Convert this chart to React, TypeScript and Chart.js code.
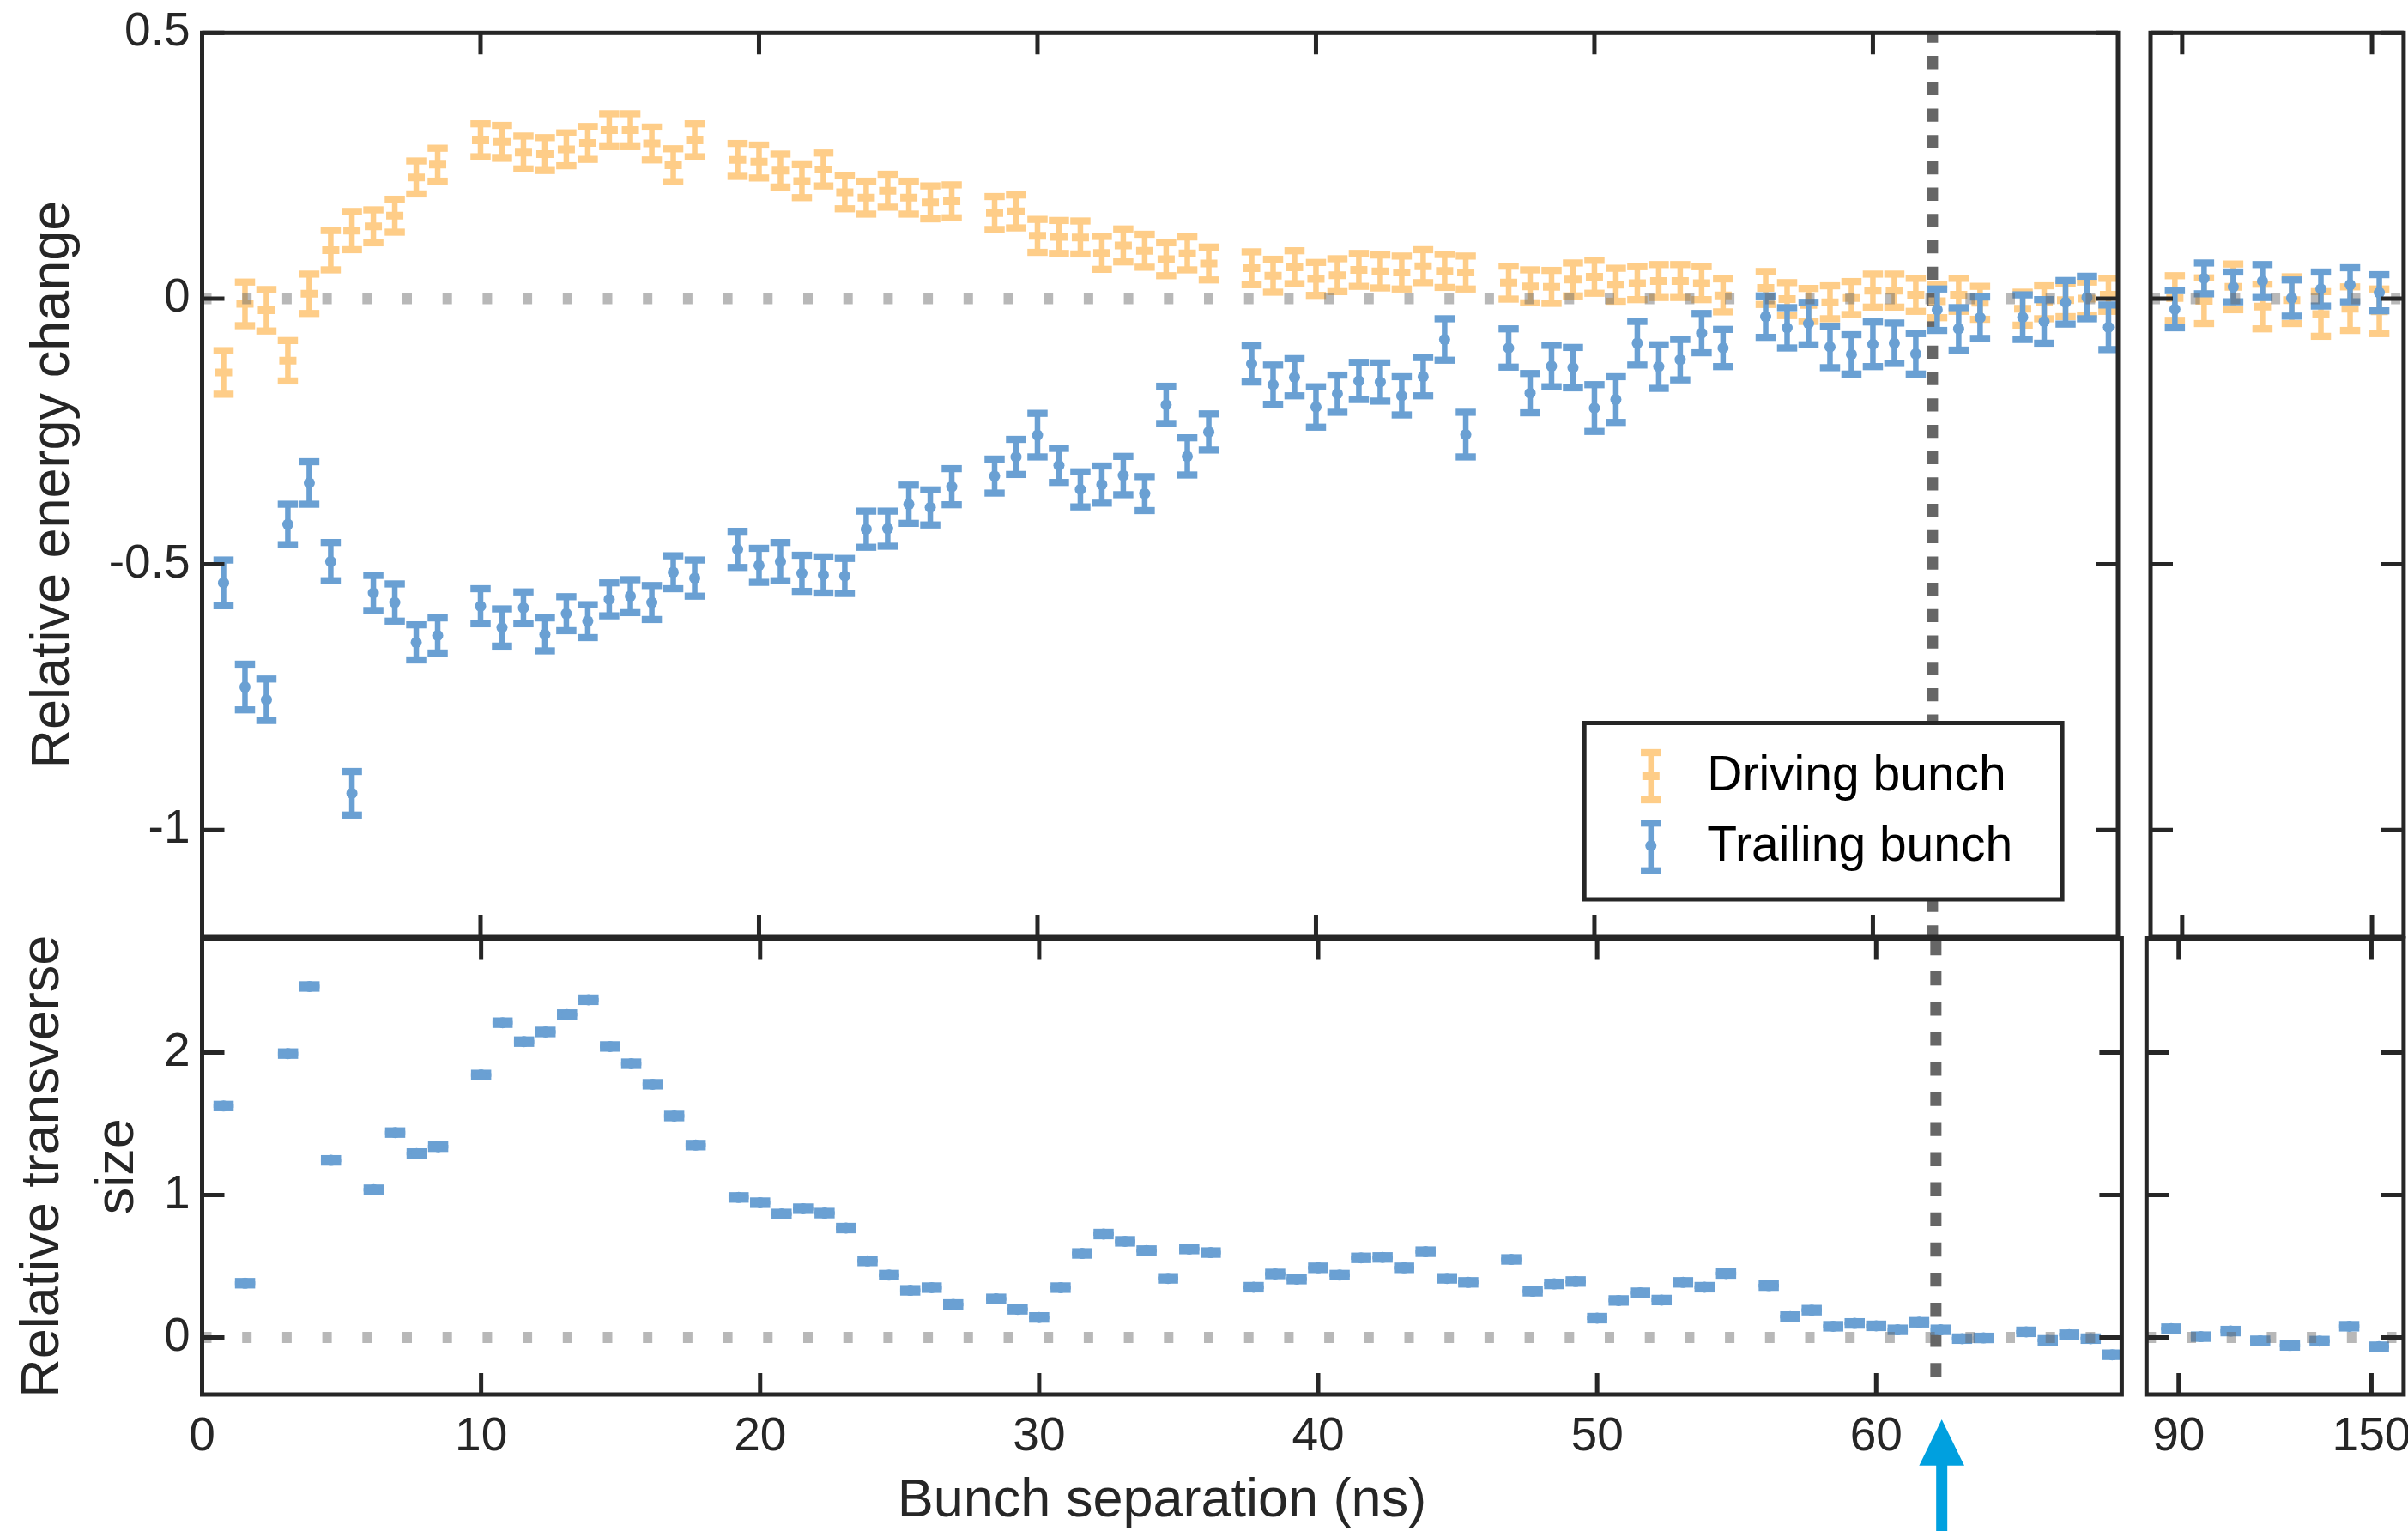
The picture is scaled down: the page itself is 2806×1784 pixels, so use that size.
import React, { useEffect, useRef } from "react";
import { Chart, registerables } from "chart.js";

Chart.register(...registerables);

const FONT = '"Liberation Sans", Arial, Helvetica, sans-serif';
Chart.defaults.font.family = FONT;

// ---------------- data ----------------
// bunch separations (ns) of the energy measurements, 0-70 ns section
const ENERGY_X = [
  0.77, 1.54, 2.31, 3.08, 3.85, 4.62, 5.38, 6.15, 6.92, 7.69, 8.46,
  10.0, 10.77, 11.54, 12.31, 13.08, 13.85, 14.62, 15.38, 16.15, 16.92, 17.69,
  19.23, 20.0, 20.77, 21.54, 22.31, 23.08, 23.85, 24.62, 25.38, 26.15, 26.92,
  28.46, 29.23, 30.0, 30.77, 31.54, 32.31, 33.08, 33.85, 34.62, 35.38, 36.15,
  37.69, 38.46, 39.23, 40.0, 40.77, 41.54, 42.31, 43.08, 43.85, 44.62, 45.38,
  46.92, 47.69, 48.46, 49.23, 50.0, 50.77, 51.54, 52.31, 53.08, 53.85, 54.62,
  56.15, 56.92, 57.69, 58.46, 59.23, 60.0, 60.77, 61.54, 62.31, 63.08, 63.85,
  65.38, 66.15, 66.92, 67.69, 68.46,
];

const DRIVING_Y = [
  -0.139, -0.01, -0.022, -0.117, 0.009, 0.091, 0.128, 0.136, 0.156, 0.228, 0.252,
  0.298, 0.295, 0.275, 0.272, 0.281, 0.293, 0.317, 0.317, 0.292, 0.251, 0.298,
  0.261, 0.258, 0.241, 0.221, 0.243, 0.2, 0.19, 0.203, 0.19, 0.181, 0.183,
  0.161, 0.164, 0.118, 0.116, 0.115, 0.086, 0.1, 0.09, 0.074, 0.085, 0.066,
  0.057, 0.043, 0.059, 0.037, 0.044, 0.054, 0.051, 0.049, 0.061, 0.052, 0.049,
  0.03, 0.023, 0.022, 0.036, 0.041, 0.026, 0.029, 0.033, 0.033, 0.029, 0.006,
  0.02, -0.001, -0.012, -0.007, 0.001, 0.015, 0.015, 0.007, -0.005, 0.007, -0.008,
  -0.019, -0.007, -0.003, 0.0, 0.007,
];

const DRIVING_ERR = [
  0.041, 0.041, 0.039, 0.038, 0.037, 0.037, 0.036, 0.031, 0.031, 0.031, 0.031,
  0.031, 0.031, 0.031, 0.031, 0.031, 0.031, 0.031, 0.031, 0.031, 0.031, 0.031,
  0.031, 0.031, 0.031, 0.031, 0.031, 0.031, 0.031, 0.031, 0.031, 0.031, 0.031,
  0.031, 0.031, 0.031, 0.031, 0.031, 0.031, 0.031, 0.031, 0.031, 0.031, 0.031,
  0.031, 0.031, 0.031, 0.031, 0.031, 0.031, 0.031, 0.031, 0.031, 0.031, 0.031,
  0.031, 0.031, 0.031, 0.031, 0.031, 0.031, 0.031, 0.031, 0.031, 0.031, 0.031,
  0.031, 0.031, 0.031, 0.031, 0.031, 0.031, 0.031, 0.031, 0.031, 0.031, 0.031,
  0.031, 0.031, 0.031, 0.031, 0.031,
];

const TRAILING_Y = [
  -0.535, -0.731, -0.755, -0.425, -0.347, -0.495, -0.931, -0.554, -0.572, -0.647, -0.634,
  -0.579, -0.619, -0.582, -0.632, -0.593, -0.607, -0.566, -0.56, -0.572, -0.515, -0.526,
  -0.472, -0.502, -0.495, -0.517, -0.52, -0.522, -0.434, -0.433, -0.387, -0.393, -0.354,
  -0.334, -0.298, -0.257, -0.314, -0.359, -0.35, -0.333, -0.367, -0.2, -0.297, -0.251,
  -0.123, -0.162, -0.148, -0.204, -0.179, -0.155, -0.157, -0.183, -0.147, -0.077, -0.256,
  -0.093, -0.178, -0.127, -0.13, -0.206, -0.19, -0.084, -0.128, -0.115, -0.065, -0.093,
  -0.034, -0.055, -0.047, -0.091, -0.105, -0.086, -0.084, -0.104, -0.021, -0.057, -0.036,
  -0.035, -0.043, -0.007, 0.002, -0.054,
];

const TRAILING_ERR = [
  0.043, 0.043, 0.039, 0.038, 0.04, 0.036, 0.041, 0.033, 0.035, 0.033, 0.033,
  0.033, 0.035, 0.03, 0.031, 0.032, 0.031, 0.031, 0.031, 0.032, 0.031, 0.034,
  0.034, 0.032, 0.036, 0.034, 0.034, 0.033, 0.034, 0.033, 0.036, 0.033, 0.034,
  0.032, 0.033, 0.041, 0.032, 0.033, 0.035, 0.036, 0.032, 0.035, 0.035, 0.034,
  0.034, 0.037, 0.035, 0.038, 0.035, 0.035, 0.036, 0.036, 0.036, 0.039, 0.042,
  0.036, 0.037, 0.039, 0.038, 0.044, 0.043, 0.041, 0.041, 0.038, 0.037, 0.035,
  0.039, 0.038, 0.04, 0.039, 0.037, 0.042, 0.038, 0.038, 0.039, 0.04, 0.039,
  0.042, 0.041, 0.041, 0.04, 0.042,
];

// bunch separations of the transverse-size measurements (no data at 2.31 and 5.38 ns)
const SIZE_X = [
  0.77, 1.54, 3.08, 3.85, 4.62, 6.15, 6.92, 7.69, 8.46,
  10.0, 10.77, 11.54, 12.31, 13.08, 13.85, 14.62, 15.38, 16.15, 16.92, 17.69,
  19.23, 20.0, 20.77, 21.54, 22.31, 23.08, 23.85, 24.62, 25.38, 26.15, 26.92,
  28.46, 29.23, 30.0, 30.77, 31.54, 32.31, 33.08, 33.85, 34.62, 35.38, 36.15,
  37.69, 38.46, 39.23, 40.0, 40.77, 41.54, 42.31, 43.08, 43.85, 44.62, 45.38,
  46.92, 47.69, 48.46, 49.23, 50.0, 50.77, 51.54, 52.31, 53.08, 53.85, 54.62,
  56.15, 56.92, 57.69, 58.46, 59.23, 60.0, 60.77, 61.54, 62.31, 63.08, 63.85,
  65.38, 66.15, 66.92, 67.69, 68.46,
];

const SIZE_Y = [
  1.624, 0.381, 1.992, 2.463, 1.243, 1.037, 1.438, 1.291, 1.339,
  1.842, 2.209, 2.076, 2.144, 2.266, 2.37, 2.042, 1.921, 1.777, 1.554, 1.35,
  0.983, 0.946, 0.867, 0.904, 0.873, 0.768, 0.537, 0.438, 0.331, 0.35, 0.232,
  0.271, 0.198, 0.141, 0.35, 0.59, 0.726, 0.675, 0.61, 0.415, 0.621, 0.596,
  0.353, 0.446, 0.41, 0.489, 0.438, 0.559, 0.562, 0.489, 0.602, 0.415, 0.387,
  0.548, 0.325, 0.376, 0.393, 0.136, 0.26, 0.314, 0.263, 0.387, 0.353, 0.449,
  0.364, 0.147, 0.192, 0.079, 0.099, 0.082, 0.054, 0.107, 0.054, -0.008, -0.003,
  0.04, -0.02, 0.02, -0.008, -0.121,
];
const SIZE_ERR = 0.012;

// long-separation section (right-hand panels)
const FAR_X = [87.69, 96.92, 106.15, 115.38, 124.62, 133.85, 143.08, 152.31];
const FAR_DRIVING_Y = [0.001, -0.004, 0.022, -0.015, -0.003, -0.029, -0.019, -0.024];
const FAR_DRIVING_ERR = [0.042, 0.043, 0.043, 0.042, 0.044, 0.042, 0.041, 0.042];
const FAR_TRAILING_Y = [-0.02, 0.038, 0.022, 0.033, 0.001, 0.018, 0.026, 0.011];
const FAR_TRAILING_ERR = [0.035, 0.029, 0.028, 0.031, 0.034, 0.032, 0.032, 0.034];
const FAR_SIZE_Y = [0.062, 0.006, 0.045, -0.023, -0.056, -0.025, 0.079, -0.065];

// ticks and annotations
const ENERGY_Y_TICKS = [-1, -0.5, 0, 0.5];
const SIZE_Y_TICKS = [0, 1, 2];
const NEAR_X_TICKS = [0, 10, 20, 30, 40, 50, 60];
const FAR_X_TICKS = [90, 150];
const MARKED_SEPARATION = [62.14];
const ARROW_SEPARATION = [62.35];

// ---------------- styles ----------------
const INK = "#262626";
const ORANGE = "rgb(254,205,136)";
const BLUE = "rgb(106,160,211)";
const ARROW_BLUE = "#00A0DF";
const STEM = 6.5;
const CAP_W = 23.5;
const CAP_H = 8.3;
const TICK_LEN = 25;
const FRAME_W = 5;

type Series = {
  label: string;
  xs: number[];
  ys: number[];
  errs: number[] | number;
  color: string;
  marker: "dot" | "bar";
  order: number;
};

type AxisSpec = {
  min: number;
  max: number;
  ticks: number[];
  labels: boolean;
  size: number;
  title?: string | string[];
  titleLineHeight?: number;
  titlePadding?: { top: number; bottom: number };
};

type Panel = {
  key: string;
  box: { left: number; top: number; width: number; height: number };
  padding: { left: number; top: number; right: number; bottom: number };
  x: AxisSpec;
  y: AxisSpec;
  series: Series[];
  vline?: { dash: number[]; offset: number };
  arrow?: boolean;
  legend?: boolean;
};

const driving = (xs: number[], ys: number[], errs: number[]): Series => ({
  label: "Driving bunch", xs, ys, errs, color: ORANGE, marker: "bar", order: 2,
});
const trailing = (xs: number[], ys: number[], errs: number[] | number): Series => ({
  label: "Trailing bunch", xs, ys, errs, color: BLUE, marker: "dot", order: 1,
});

const NEAR_RANGE = { min: 0, max: 68.8 };
const FAR_RANGE = { min: 80, max: 160 };
const ENERGY_RANGE = { min: -1.2, max: 0.5 };
const SIZE_RANGE = { min: -0.4, max: 2.8 };

const PANELS: Panel[] = [
  {
    key: "energy-near",
    box: { left: 0, top: 0, width: 2487, height: 1110 },
    padding: { left: 0, top: 38.3, right: 14.6, bottom: 16.7 },
    x: { ...NEAR_RANGE, ticks: NEAR_X_TICKS, labels: false, size: 0 },
    y: {
      ...ENERGY_RANGE, ticks: ENERGY_Y_TICKS, labels: true, size: 235.5,
      title: "Relative energy change", titleLineHeight: 1.2, titlePadding: { top: 25, bottom: 0 },
    },
    series: [driving(ENERGY_X, DRIVING_Y, DRIVING_ERR), trailing(ENERGY_X, TRAILING_Y, TRAILING_ERR)],
    vline: { dash: [15.3, 15.4], offset: 3.9 },
    legend: true,
  },
  {
    key: "energy-far",
    box: { left: 2487, top: 0, width: 340, height: 1110 },
    padding: { left: 14.3, top: 38.3, right: 26.1, bottom: 16.7 },
    x: { ...FAR_RANGE, ticks: FAR_X_TICKS, labels: false, size: 0 },
    y: { ...ENERGY_RANGE, ticks: ENERGY_Y_TICKS, labels: false, size: 0 },
    series: [driving(FAR_X, FAR_DRIVING_Y, FAR_DRIVING_ERR), trailing(FAR_X, FAR_TRAILING_Y, FAR_TRAILING_ERR)],
  },
  {
    key: "size-near",
    box: { left: 0, top: 1080, width: 2487, height: 720 },
    padding: { left: 0, top: 13.5, right: 14.6, bottom: 0 },
    x: {
      ...NEAR_RANGE, ticks: NEAR_X_TICKS, labels: true, size: 175,
      title: "Bunch separation (ns)", titleLineHeight: 1.2, titlePadding: { top: 0, bottom: 13 },
    },
    y: {
      ...SIZE_RANGE, ticks: SIZE_Y_TICKS, labels: true, size: 235.5,
      title: ["Relative transverse", "size"], titleLineHeight: 1.38, titlePadding: { top: 7, bottom: 0 },
    },
    series: [trailing(SIZE_X, SIZE_Y, SIZE_ERR)],
    vline: { dash: [16.4, 18.7], offset: 31.8 },
    arrow: true,
  },
  {
    key: "size-far",
    box: { left: 2487, top: 1080, width: 340, height: 720 },
    padding: { left: 14.3, top: 13.5, right: 26.1, bottom: 0 },
    x: { ...FAR_RANGE, ticks: FAR_X_TICKS, labels: true, size: 175 },
    y: { ...SIZE_RANGE, ticks: SIZE_Y_TICKS, labels: false, size: 0 },
    series: [trailing(FAR_X, FAR_SIZE_Y, SIZE_ERR)],
  },
];

// ---------------- drawing helpers ----------------
function drawErrorGlyph(ctx: CanvasRenderingContext2D, x: number, yTop: number, yBottom: number, color: string) {
  ctx.fillStyle = color;
  ctx.fillRect(x - STEM / 2, yTop, STEM, yBottom - yTop);
  ctx.fillRect(x - CAP_W / 2, yTop - CAP_H / 2, CAP_W, CAP_H);
  ctx.fillRect(x - CAP_W / 2, yBottom - CAP_H / 2, CAP_W, CAP_H);
}

function drawCenterMarker(ctx: CanvasRenderingContext2D, x: number, y: number, color: string, kind: "dot" | "bar") {
  ctx.fillStyle = color;
  if (kind === "dot") {
    ctx.beginPath();
    ctx.arc(x, y, 6.5, 0, Math.PI * 2);
    ctx.fill();
  } else {
    ctx.fillRect(x - 10, y - 4.5, 20, 9);
  }
}

const errorBars = {
  id: "errorBars",
  beforeDatasetDraw(chart: any, args: any) {
    const ds = chart.data.datasets[args.index];
    const ys = chart.scales.y;
    const ctx: CanvasRenderingContext2D = chart.ctx;
    ctx.save();
    args.meta.data.forEach((pt: any, i: number) => {
      const v = ds.data[i].y;
      const e = ds.errs[i];
      drawErrorGlyph(ctx, pt.x, ys.getPixelForValue(v + e), ys.getPixelForValue(v - e), ds.barColor);
    });
    ctx.restore();
  },
};

function makeOverlay(panel: Panel) {
  return {
    id: "overlay",
    beforeDatasetsDraw(chart: any) {
      if (!panel.vline) return;
      const { top, bottom } = chart.chartArea;
      const ctx: CanvasRenderingContext2D = chart.ctx;
      const x = chart.scales.x.getPixelForValue(MARKED_SEPARATION[0]);
      ctx.save();
      ctx.strokeStyle = "#666666";
      ctx.lineWidth = 13;
      ctx.setLineDash(panel.vline.dash);
      ctx.lineDashOffset = panel.vline.offset;
      ctx.beginPath();
      ctx.moveTo(x, top);
      ctx.lineTo(x, bottom);
      ctx.stroke();
      ctx.restore();
    },
    afterDatasetsDraw(chart: any) {
      const { left, right } = chart.chartArea;
      const ctx: CanvasRenderingContext2D = chart.ctx;
      const y0 = chart.scales.y.getPixelForValue(0);
      ctx.save();
      ctx.strokeStyle = "rgba(100,100,100,0.46)";
      ctx.lineWidth = 13;
      ctx.setLineDash([11, 35.7]);
      ctx.beginPath();
      ctx.moveTo(left, y0);
      ctx.lineTo(right, y0);
      ctx.stroke();
      ctx.restore();
    },
    afterDraw(chart: any) {
      const { left, right, top, bottom } = chart.chartArea;
      const ctx: CanvasRenderingContext2D = chart.ctx;
      const xs = chart.scales.x;
      const ys = chart.scales.y;
      ctx.save();
      ctx.setLineDash([]);
      ctx.strokeStyle = INK;
      ctx.lineWidth = FRAME_W;
      ctx.strokeRect(left, top, right - left, bottom - top);
      ctx.beginPath();
      panel.x.ticks.forEach((v) => {
        const px = xs.getPixelForValue(v);
        ctx.moveTo(px, top);
        ctx.lineTo(px, top + TICK_LEN);
        ctx.moveTo(px, bottom);
        ctx.lineTo(px, bottom - TICK_LEN);
      });
      panel.y.ticks.forEach((v) => {
        const py = ys.getPixelForValue(v);
        ctx.moveTo(left, py);
        ctx.lineTo(left + TICK_LEN + 1, py);
        ctx.moveTo(right, py);
        ctx.lineTo(right - TICK_LEN - 1, py);
      });
      ctx.stroke();

      if (panel.legend) {
        const L = 1846.2, T = 842.5, R = 2403.1, B = 1048;
        ctx.fillStyle = "#ffffff";
        ctx.fillRect(L, T, R - L, B - T);
        ctx.strokeStyle = INK;
        ctx.lineWidth = FRAME_W;
        ctx.strokeRect(L, T, R - L, B - T);
        const rows = [
          { center: 904.5, half: 27.5, baseline: 921 },
          { center: 987, half: 27.8, baseline: 1003.2 },
        ];
        ctx.font = `57px ${FONT}`;
        ctx.textAlign = "left";
        ctx.textBaseline = "alphabetic";
        panel.series.forEach((s, i) => {
          const r = rows[i];
          drawErrorGlyph(ctx, 1923.8, r.center - r.half, r.center + r.half, s.color);
          drawCenterMarker(ctx, 1923.8, s.marker === "dot" ? r.center - 1.5 : r.center, s.color, s.marker);
          ctx.fillStyle = "#000000";
          ctx.fillText(s.label, 1989.3, r.baseline);
        });
      }

      if (panel.arrow) {
        const ax = xs.getPixelForValue(ARROW_SEPARATION[0]);
        const tipY = 1654 - panel.box.top;
        const baseY = 1707.8 - panel.box.top;
        ctx.fillStyle = ARROW_BLUE;
        ctx.beginPath();
        ctx.moveTo(ax, tipY);
        ctx.lineTo(ax + 26.3, baseY);
        ctx.lineTo(ax - 26.3, baseY);
        ctx.closePath();
        ctx.fill();
        ctx.fillRect(ax - 6.5, baseY - 1, 13, panel.box.height - baseY + 2);
      }
      ctx.restore();
    },
  };
}

function axisOptions(spec: AxisSpec, horizontal: boolean) {
  return {
    type: "linear",
    position: horizontal ? "bottom" : "left",
    min: spec.min,
    max: spec.max,
    display: spec.labels,
    grid: { display: false, drawTicks: false },
    border: { display: false },
    ticks: {
      autoSkip: false,
      maxRotation: 0,
      minRotation: 0,
      padding: horizontal ? 17 : 14,
      color: INK,
      font: { family: FONT, size: 55 },
      callback: (v: number) => String(v),
    },
    title: spec.title
      ? {
          display: true,
          text: spec.title,
          color: INK,
          font: { family: FONT, size: 63, lineHeight: spec.titleLineHeight ?? 1.2 },
          padding: spec.titlePadding,
        }
      : { display: false },
    afterBuildTicks: (s: any) => {
      s.ticks = spec.ticks.map((value) => ({ value }));
    },
    afterFit: (s: any) => {
      if (horizontal) s.height = spec.size;
      else s.width = spec.size;
      s.paddingLeft = 0;
      s.paddingRight = 0;
      s.paddingTop = 0;
      s.paddingBottom = 0;
    },
  };
}

function buildConfig(panel: Panel): any {
  const datasets = panel.series.map((s) => ({
    label: s.label,
    data: s.xs.map((x, i) => ({ x, y: s.ys[i] })),
    errs: s.xs.map((_, i) => (Array.isArray(s.errs) ? s.errs[i] : s.errs)),
    barColor: s.color,
    order: s.order,
    showLine: false,
    pointStyle: s.marker === "dot" ? "circle" : "line",
    pointRadius: s.marker === "dot" ? 6.5 : 10,
    pointBorderWidth: s.marker === "dot" ? 0 : 9,
    pointBackgroundColor: s.color,
    pointBorderColor: s.color,
    pointHoverRadius: 0,
  }));
  return {
    type: "scatter",
    data: { datasets },
    options: {
      animation: false,
      responsive: false,
      maintainAspectRatio: false,
      devicePixelRatio: 1,
      events: [],
      layout: { padding: panel.padding },
      plugins: { legend: { display: false }, tooltip: { enabled: false } },
      scales: {
        x: axisOptions(panel.x, true),
        y: axisOptions(panel.y, false),
      },
    },
    plugins: [errorBars, makeOverlay(panel)],
  };
}

function PanelChart({ panel }: { panel: Panel }) {
  const ref = useRef<HTMLCanvasElement | null>(null);
  useEffect(() => {
    const canvas = ref.current;
    if (!canvas) return;
    const chart = new Chart(canvas, buildConfig(panel));
    return () => chart.destroy();
  }, [panel]);
  const { left, top, width, height } = panel.box;
  return (
    <canvas
      ref={ref}
      width={width}
      height={height}
      style={{ position: "absolute", left, top, width, height, display: "block" }}
    />
  );
}

export default function App() {
  return (
    <div
      style={{
        position: "fixed",
        left: 0,
        top: 0,
        width: 2806,
        height: 1784,
        overflow: "hidden",
        background: "#ffffff",
      }}
    >
      {PANELS.map((p) => (
        <PanelChart key={p.key} panel={p} />
      ))}
    </div>
  );
}
